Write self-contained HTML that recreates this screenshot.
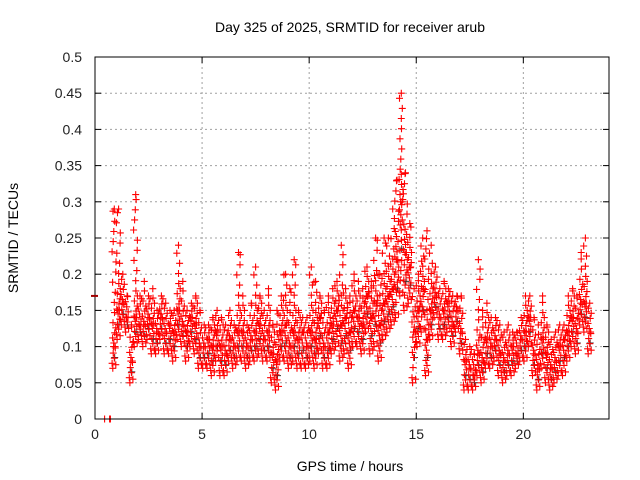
<!DOCTYPE html>
<html><head><meta charset="utf-8"><style>
body{margin:0;background:#fff;}
svg{display:block;font-family:"Liberation Sans",sans-serif;}
</style></head><body>
<svg id="chart" width="640" height="480">
<rect width="640" height="480" fill="#fff"/>
<g id="grid"></g>
<g id="pts"></g>
<g id="axes"></g>
<text x="350" y="32" font-size="14" text-anchor="middle">Day 325 of 2025, SRMTID for receiver arub</text>
<text x="350" y="471" font-size="14" text-anchor="middle">GPS time / hours</text>
<text x="18" y="238" font-size="14" text-anchor="middle" transform="rotate(-90 18 238)">SRMTID / TECUs</text>
</svg>
<script>
const xTicks=[0,5,10,15,20];
const yTicks=[0,0.05,0.1,0.15,0.2,0.25,0.3,0.35,0.4,0.45,0.5];
const yTickLabels=["0","0.05","0.1","0.15","0.2","0.25","0.3","0.35","0.4","0.45","0.5"];
const startHour=0.8, stepHour=0.2;
const midVals=[.10,.15,.16,.14,.08,.14,.13,.13,.14,.13,.12,.14,.12,.13,.12,.15,.13,.12,.14,.13,.10,.10,.11,.10,.12,.10,.09,.11,.10,.12,.12,.10,.11,.12,.13,.11,.12,.09,.08,.12,.13,.10,.12,.11,.12,.10,.12,.11,.14,.10,.12,.13,.15,.13,.14,.12,.15,.14,.13,.17,.14,.16,.13,.16,.17,.18,.22,.30,.23,.21,.12,.15,.18,.11,.15,.17,.14,.15,.16,.13,.15,.12,.08,.07,.06,.09,.08,.11,.10,.11,.09,.08,.09,.10,.09,.11,.12,.14,.09,.07,.11,.09,.07,.08,.10,.11,.12,.14,.12,.16,.16,.12];
const loVals=[.07,.11,.13,.12,.05,.10,.11,.10,.11,.09,.09,.11,.09,.09,.08,.11,.10,.08,.10,.09,.07,.07,.07,.06,.08,.06,.06,.08,.07,.08,.08,.07,.08,.08,.09,.08,.08,.05,.04,.08,.08,.07,.08,.07,.07,.07,.08,.07,.09,.07,.07,.09,.10,.08,.09,.07,.10,.10,.09,.12,.09,.10,.08,.11,.12,.13,.14,.17,.15,.16,.05,.10,.12,.06,.11,.14,.11,.11,.12,.10,.12,.09,.04,.04,.04,.06,.05,.07,.07,.08,.06,.05,.06,.06,.07,.08,.08,.10,.06,.04,.07,.05,.04,.05,.06,.06,.08,.10,.09,.13,.12,.09];
const hiVals=[.29,.29,.20,.17,.13,.31,.17,.19,.17,.18,.15,.17,.16,.15,.15,.24,.19,.15,.16,.17,.15,.13,.13,.14,.15,.14,.13,.15,.13,.23,.17,.13,.16,.21,.17,.15,.18,.13,.15,.17,.20,.18,.22,.15,.14,.14,.21,.19,.17,.15,.17,.18,.19,.24,.18,.17,.20,.19,.18,.21,.19,.25,.20,.25,.25,.29,.33,.45,.34,.27,.18,.20,.25,.26,.24,.21,.18,.19,.18,.17,.17,.17,.11,.10,.09,.22,.15,.16,.14,.14,.13,.12,.13,.12,.12,.14,.17,.17,.14,.13,.17,.13,.11,.12,.13,.13,.17,.18,.17,.23,.25,.16];
const zeroHours=[0.45,0.68,0.72];
const x0=95,x1=609,y0=419,y1=57,xMax=24,yMax=0.5;
const X=h=>x0+(x1-x0)*h/xMax, Y=v=>y0-(y0-y1)*v/yMax;
const NS="http://www.w3.org/2000/svg";
function mk(tag,attrs,parent){const e=document.createElementNS(NS,tag);for(const k in attrs)e.setAttribute(k,attrs[k]);parent.appendChild(e);return e;}
const grid=document.getElementById('grid'),axes=document.getElementById('axes'),pts=document.getElementById('pts');
xTicks.forEach((t,i)=>{
 if(t>0){const l=mk('line',{x1:X(t),x2:X(t),y1:y0,y2:y1,stroke:'#a0a0a0','stroke-dasharray':'2,3'},grid);
 
 }
 mk('line',{x1:X(t),x2:X(t),y1:y0,y2:y0-6,stroke:'#000'},axes);
 mk('line',{x1:X(t),x2:X(t),y1:y1,y2:y1+6,stroke:'#000'},axes);
 const tx=mk('text',{x:X(t),y:y0+20,'font-size':14,'text-anchor':'middle',fill:'#222'},axes);
 tx.textContent=String(t);
 
 
});
yTicks.forEach((v,i)=>{
 if(v>0&&v<yMax){const l=mk('line',{x1:x0,x2:x1,y1:Y(v),y2:Y(v),stroke:'#a0a0a0','stroke-dasharray':'2,3'},grid);
 
 }
 mk('line',{x1:x0,x2:x0+6,y1:Y(v),y2:Y(v),stroke:'#000'},axes);
 mk('line',{x1:x1,x2:x1-6,y1:Y(v),y2:Y(v),stroke:'#000'},axes);
 const tx=mk('text',{x:x0-13,y:Y(v)+5,'font-size':14,'text-anchor':'end',fill:'#222'},axes);
 tx.textContent=yTickLabels[i];
 
 
});
const frame=mk('rect',{x:x0,y:y1,width:x1-x0,height:y0-y1,fill:'none',stroke:'#000'},axes);


const mark=mk('line',{x1:x0-4,x2:x0+3,y1:Y(0.17),y2:Y(0.17),stroke:'#a00000','stroke-width':2},axes);


let d='',dk='';
function plus(h,v,dark){const x=X(h),y=Y(v);const s=`M${(x-3.5).toFixed(1)} ${y.toFixed(1)}h7M${x.toFixed(1)} ${(y-3.5).toFixed(1)}v7`;if(dark)dk+=s;else d+=s;}
const offs=[0,0.1,0.05,0.15,0.08,0.02,0.12,0.17,0.04,0.18,0.11];
midVals.forEach((m,i)=>{
 const t=startHour+i*stepHour,lo=loVals[i],hi=hiVals[i];
 plus(t+0.03,lo);plus(t+0.1,hi);plus(t+0.07,m);plus(t+0.14,m);plus(t+0.17,lo+0.005);
 plus(t+0.12,(lo+m)/2,true);
 let k=0;
 for(let v=lo+0.007;v<hi;v+=0.007){const near=Math.abs(v-m)<0.04;if(near||k%2==0)plus(t+offs[k%offs.length],v);k++;}
});
zeroHours.forEach(h=>plus(h,0));
const pd=mk('path',{d:dk,stroke:'#333','stroke-width':1,fill:'none'},pts);


const p=mk('path',{d:d,stroke:'#ff0000','stroke-width':1.1,fill:'none'},pts);


</script>
</body></html>
